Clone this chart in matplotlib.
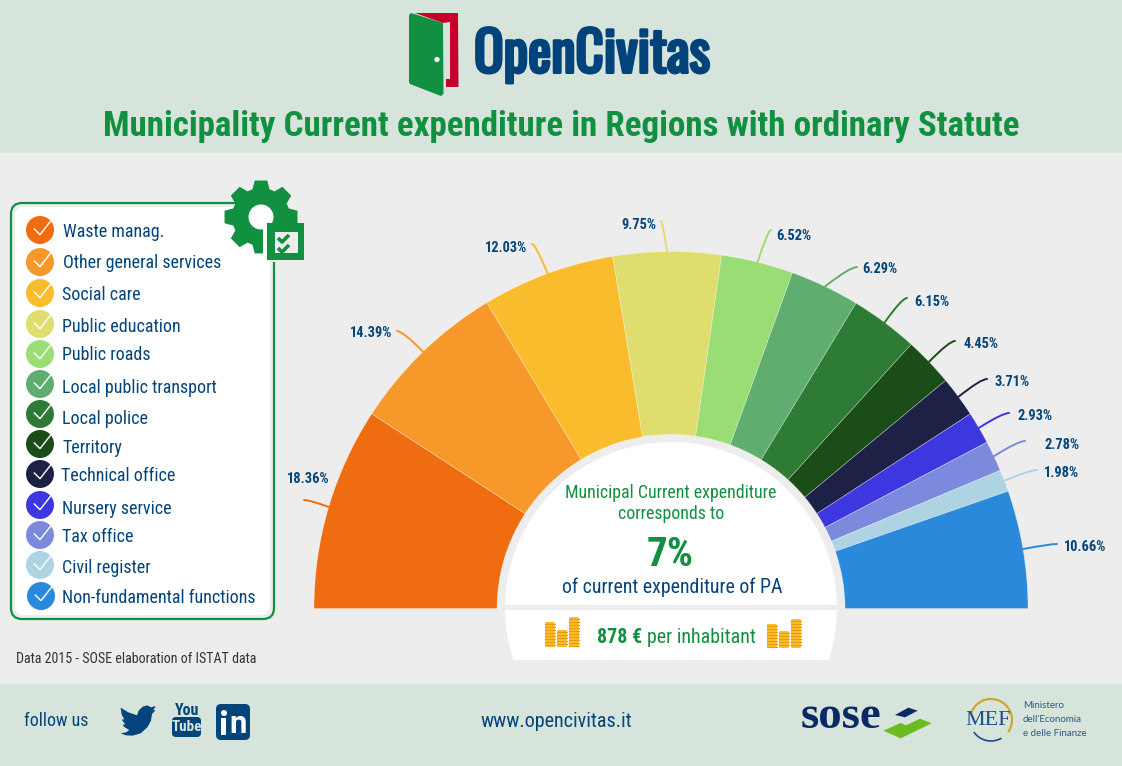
import numpy as np
import matplotlib
matplotlib.use("Agg")
import matplotlib.pyplot as plt
import matplotlib.patheffects as pe
from matplotlib import font_manager as fm
from matplotlib.patches import Circle, Rectangle, FancyBboxPatch, Polygon, Arc, PathPatch
from matplotlib.path import Path
from matplotlib.textpath import TextPath

categories = ["Waste manag.", "Other general services", "Social care", "Public education",
              "Public roads", "Local public transport", "Local police", "Territory",
              "Technical office", "Nursery service", "Tax office", "Civil register",
              "Non-fundamental functions"]
values = [18.36, 14.39, 12.03, 9.75, 6.52, 6.29, 6.15, 4.45, 3.71, 2.93, 2.78, 1.98, 10.66]
colors = ["#F06C10", "#F7982B", "#F8BC2C", "#E0DD6F", "#9BDD75", "#5FAE70", "#2E7B35",
          "#1A4D17", "#1D2145", "#3D37E0", "#7C8ADD", "#AED4E4", "#2B89DB"]
label_xy = [(308, 478), (371, 332), (506, 247), (639, 224), (794, 235), (880, 268), (932, 301),
            (981, 343), (1012, 381), (1035, 415), (1062, 444), (1062, 472), (1085, 546)]
leader_end = [(304, 500), (397, 331), (532, 244), (661, 221), (771, 230), (857, 267), (907, 298),
              (955, 341), (987, 379), (1009, 413), (1025, 441), (1037, 470), (1057, 544)]
legend_y = [230, 262, 293, 324, 354, 384, 414, 444, 474, 505, 535, 565, 596]
legend_text_x = [63, 63, 62, 62, 62, 62, 62, 62, 61, 62, 62, 62, 62]
legend_text_y = [231, 262, 294, 326, 354, 387, 418, 447, 475, 508, 536, 567, 597]

GREEN = "#129041"
NAVY = "#03457A"
BG = "#EDEDED"
BAND = "#D7E4DC"
COND = "Roboto Condensed"
CX, CY, R_OUT, R_IN, R_WHITE = 671, 608.5, 357, 174, 166


def logo_font(text, wanted_w, wanted_cap):
    """Narrow face whose width and capital height come closest to the wordmark."""
    installed = {f.name for f in fm.fontManager.ttflist}
    best = (1e9, "Barlow Condensed", 58.0)
    for name in ("Sofia Sans Extra Condensed", "Saira ExtraCondensed", "Barlow Condensed", "Antonio",
                 "Pathway Gothic One", "Oswald", "Saira Condensed", "Fjalla One", "Archivo Narrow"):
        if name not in installed:
            continue
        fp = fm.FontProperties(family=name, weight=600)
        w = TextPath((0, 0), text, size=100, prop=fp).get_extents().width
        cap = TextPath((0, 0), "O", size=100, prop=fp).get_extents().height
        size = 100 * wanted_w / w
        score = abs(cap * size / 100 - wanted_cap)
        if score < best[0]:
            best = (score, name, size)
    return best[1], best[2]


LOGO_FONT, LOGO_PX = logo_font("OpenCivitas", 232, 46)

W, H = 1122, 766
fig = plt.figure(figsize=(W / 100, H / 100), dpi=100, facecolor=BG)
ax = fig.add_axes([0, 0, 1, 1])


def Y(p):
    return H - p


def txt(x, y, s, px, color=NAVY, weight="normal", ha="left", family=None, **kw):
    return ax.text(x, Y(y + 0.07 * px), s, fontsize=px * 0.72, color=color, fontweight=weight, ha=ha, va="center",
                   family=family or COND, **kw)


def poly(points, color, z=3, **kw):
    p = Polygon([(x, Y(y)) for x, y in points], closed=True, facecolor=color, edgecolor="none", zorder=z, **kw)
    ax.add_patch(p)
    return p


def rbox(x0, y0, x1, y1, r, fc, ec="none", lw=0, z=3):
    p = FancyBboxPatch((x0 + r, Y(y1) + r), x1 - x0 - 2 * r, y1 - y0 - 2 * r,
                       boxstyle=f"round,pad={r},rounding_size={r}", fc=fc, ec=ec, lw=lw, zorder=z)
    ax.add_patch(p)
    return p


# half doughnut: the hidden remainder closes the full circle
wedges, _ = ax.pie(values + [sum(values)], colors=colors + ["none"], startangle=180, counterclock=False,
                   center=(CX, Y(CY)), radius=R_OUT,
                   wedgeprops=dict(width=R_OUT - R_IN, edgecolor="#FFFFFF66", linewidth=0.5))
wedges[-1].set_visible(False)
for w in wedges:
    w.set_zorder(2)
ax.set_xlim(0, W)
ax.set_ylim(0, H)
ax.set_aspect("equal")
ax.set_axis_off()

# bands
ax.add_patch(Rectangle((0, Y(153)), W, 153, fc=BAND, ec="none", zorder=1))
ax.add_patch(Rectangle((0, 0), W, H - 684, fc=BAND, ec="none", zorder=1))

# centre white panels
for y0, y1 in ((430, 605), (610, 660)):
    c = Circle((CX, Y(608)), R_WHITE, fc="white", ec="none", zorder=3)
    ax.add_patch(c)
    c.set_clip_path(Rectangle((0, Y(y1)), W, y1 - y0, transform=ax.transData))

# leaders and value labels
cum = np.cumsum([0] + values)
for i, v in enumerate(values):
    ang = np.pi - np.pi * (cum[i] + v / 2) / 100
    sx, sy = CX + R_OUT * np.cos(ang), Y(CY) + R_OUT * np.sin(ang)
    ex, ey = leader_end[i][0], Y(leader_end[i][1])
    cx, cy = sx + 0.78 * (ex - sx), ey
    path = Path([(sx, sy), (cx, cy), (ex, ey)], [Path.MOVETO, Path.CURVE3, Path.CURVE3])
    ax.add_patch(PathPatch(path, fc="none", ec=colors[i], lw=1.4, zorder=2, capstyle="round"))
    lx, ly = label_xy[i]
    txt(lx, ly, f"{v:.2f}%", 14.4, weight="bold", ha="center")

# header
poly([(415, 13), (458, 13), (458.5, 87), (446, 87), (446, 79), (450, 79), (450, 22), (443, 23)], "#C4002B")
poly([(409, 15), (411, 13), (443, 23), (443.5, 94), (441, 96), (410, 84), (409, 82)], GREEN, z=4)
ax.add_patch(Circle((437, Y(59.5)), 2.6, fc="white", ec="none", zorder=5))
ax.text(474, Y(72.5), "OpenCivitas", fontsize=LOGO_PX * 0.72, color="#00427A", fontweight=600, ha="left",
        va="baseline", family=LOGO_FONT,
        path_effects=[pe.withStroke(linewidth=2.2, foreground="#00427A")])
txt(561.5, 124, "Municipality Current expenditure in Regions with ordinary Statute", 35,
    color=GREEN, weight="bold", ha="center")

# legend box
rbox(11, 203, 274, 619, 11, BG, GREEN, 1.6, z=3)
rbox(15, 207, 270, 615, 9, "white", z=3)
for i, name in enumerate(categories):
    cxp = 41 if i == len(categories) - 1 else 40
    ly = legend_y[i]
    ax.add_patch(Circle((cxp, Y(ly)), 14, fc=colors[i], ec="none", zorder=4))
    ax.plot([cxp - 5.7, cxp, cxp + 11.7], [Y(ly - 1), Y(ly + 4.7), Y(ly - 10.3)],
            color="white", lw=1.0, zorder=5, solid_joinstyle="miter")
    txt(legend_text_x[i], legend_text_y[i], name, 18)

# gear icon
gc = (261, Y(217))
gear_pts = []
for k in range(8):
    a = np.pi / 2 + k * np.pi / 4
    for da, r in ((-0.3, 29), (-0.17, 37), (0.17, 37), (0.3, 29)):
        gear_pts.append((gc[0] + r * np.cos(a + da), gc[1] + r * np.sin(a + da)))
ax.add_patch(Polygon(gear_pts, closed=True, fc=GREEN, ec="none", zorder=6))
ax.add_patch(Circle(gc, 12.5, fc="white", ec="none", zorder=7))
ax.add_patch(Rectangle((263, Y(262)), 42, 39, fc="white", ec="none", zorder=7))
ax.add_patch(Rectangle((270, Y(262)), 36, 39, fc=BG, ec="none", zorder=7))
ax.add_patch(Rectangle((267, Y(260)), 37, 37, fc=GREEN, ec="none", zorder=8))
ax.add_patch(Rectangle((275, Y(253)), 23, 21, fc=BG, ec="none", zorder=9))
for dy in (0, 10):
    ax.plot([278, 282, 289], [Y(238 + dy), Y(242 + dy), Y(235 + dy)], color=GREEN, lw=2.6, zorder=10,
            solid_capstyle="butt")

# centre text
txt(671, 491.5, "Municipal Current expenditure", 17.9, color=GREEN, ha="center")
txt(671, 512.5, "corresponds to", 17.9, color=GREEN, ha="center")
txt(670, 552, "7%", 41, color=GREEN, weight="bold", ha="center")
txt(672, 585.5, "of current expenditure of PA", 19.9, ha="center")
txt(597, 636, "878 €", 20, color=GREEN, weight="bold")
txt(647, 636, "per inhabitant", 20, color=GREEN)

# coins
for x0, tops in ((545, (622, 630, 617)), (767, (624, 631, 619))):
    bottom = 647 if x0 == 545 else 648
    for j, top in enumerate(tops):
        xs = x0 + j * 12
        ax.add_patch(FancyBboxPatch((xs + 1, Y(bottom) + 1), 8, bottom - top - 2, boxstyle="round,pad=1,rounding_size=1.5",
                                    fc="#F9BE2A", ec="none", zorder=4))
        for yy in np.arange(top + 2, bottom, 3):
            ax.plot([xs, xs + 10], [Y(yy), Y(yy)], color="#EE9A10", lw=0.8, zorder=5)

txt(16, 658, "Data 2015 - SOSE elaboration of ISTAT data", 14, color="#333333")

# footer
txt(24, 720, "follow us", 17.9)
txt(556, 720, "www.opencivitas.it", 20.1, ha="center")

bird = [(362, 83), (385, 97), (411, 106), (416, 92), (428, 80), (442, 76), (453, 82), (467, 78), (460, 91), (467, 90),
        (456, 102), (453, 122), (442, 142), (422, 160), (398, 167), (378, 166), (362, 160), (378, 157), (388, 150),
        (373, 141), (368, 134), (376, 133), (365, 119), (373, 118), (365, 104)]
poly([(x / 3, 680 + y / 3) for x, y in bird], NAVY)
txt(187, 709, "You", 16, weight="bold", ha="center")
rbox(172, 717, 201, 737, 4, NAVY)
txt(186.5, 726, "Tube", 15, color="#D7E4DC", weight="bold", ha="center", zorder=5)
rbox(216, 704, 250, 740, 5, NAVY)
ax.add_patch(Circle((224, Y(713)), 3, fc="white", ec="none", zorder=5))
ax.add_patch(Rectangle((221.5, Y(735)), 5, 17, fc="white", ec="none", zorder=5))
txt(238, 722, "n", 31, color="white", weight="bold", ha="center", zorder=5, family="Roboto")

txt(801, 714, "sose", 47, color="#0A2A66", family="Liberation Serif", weight="bold")
poly([(780 + x / 3, 680 + y / 3) for x, y in [(345, 105), (385, 83), (413, 92), (375, 112)]], "#0A2A66")
poly([(780 + x / 3, 680 + y / 3) for x, y in [(310, 152), (362, 129), (378, 136), (420, 116), (455, 130), (362, 175)]], "#6EBB1F")

ax.add_patch(Arc((991, Y(720)), 42, 42, theta1=-35, theta2=165, ec="#D4A32A", lw=1.6, zorder=3))
ax.add_patch(Arc((991, Y(720)), 42, 42, theta1=215, theta2=300, ec="#1F4E8C", lw=1.2, zorder=3))
txt(988, 719, "MEF", 22, color="#1F4E8C", ha="center", family="Liberation Serif")
for yy, s in ((706, "Ministero"), (720, "dell'Economia"), (734, "e delle Finanze")):
    txt(1023, yy - 0.7, s, 9.8, color="#2C5A88", family="Lato")

fig.savefig("out.png", dpi=100, facecolor=BG)
